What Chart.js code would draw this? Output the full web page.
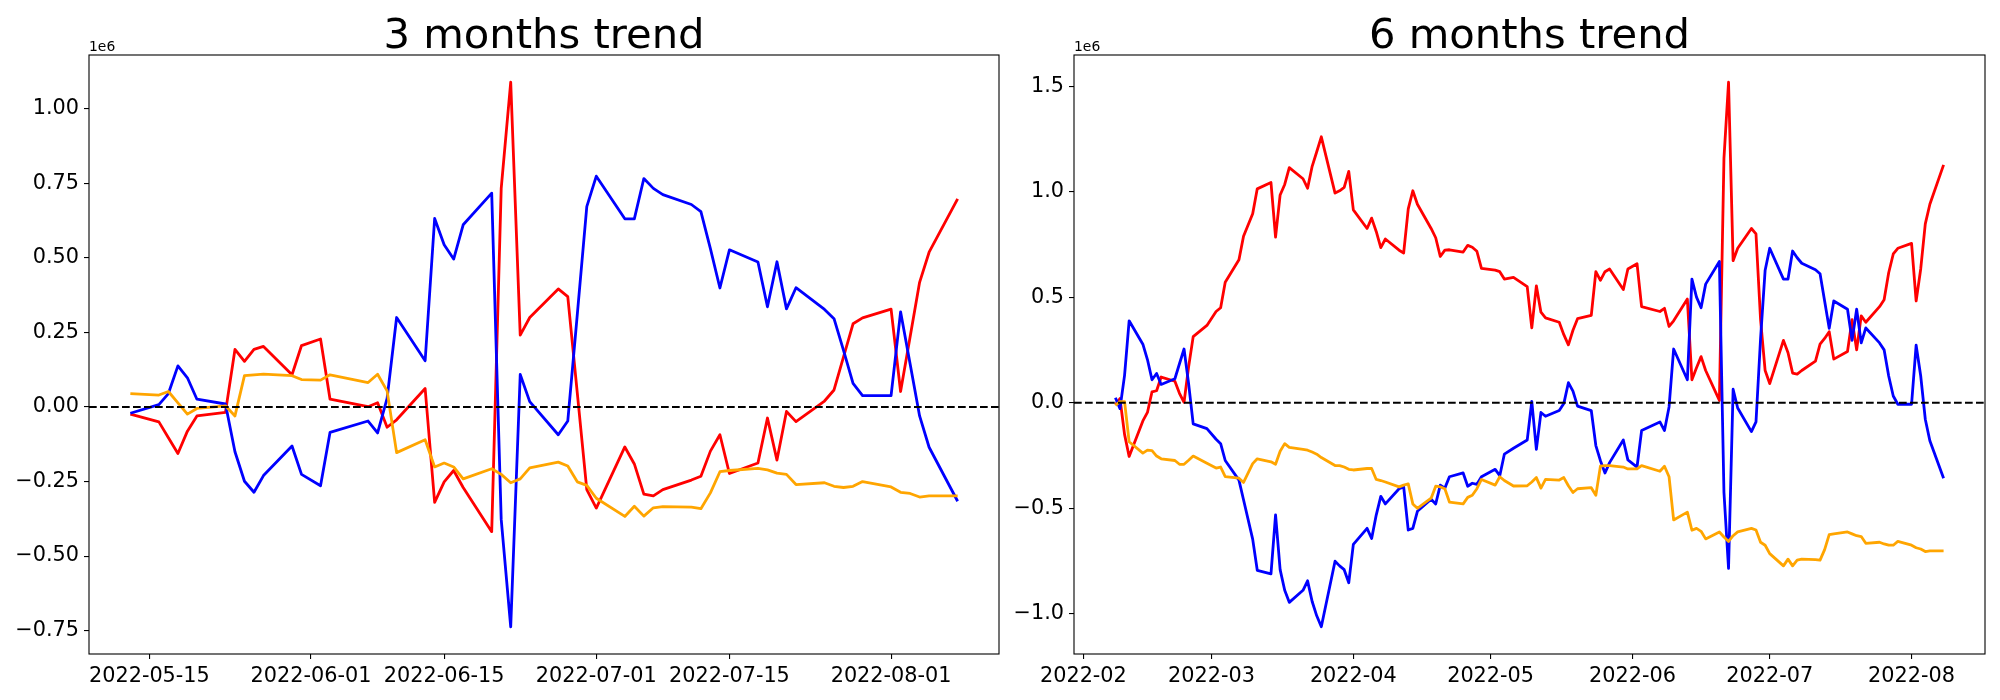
<!DOCTYPE html>
<html>
<head>
<meta charset="utf-8">
<script src="https://cdn.jsdelivr.net/npm/chart.js@4/dist/chart.umd.min.js"></script>
<style>
  html, body { margin: 0; padding: 0; background: #fff; overflow: hidden; }
  #wrap { position: relative; width: 2000px; height: 700px; }
  canvas { position: absolute; top: 0; }
</style>
</head>
<body>
<div id="wrap">
  <canvas id="chart3" width="1010" height="700" style="left:0px"></canvas>
  <canvas id="chart6" width="1000" height="700" style="left:1000px"></canvas>
</div>
<script>
// values are in units of 1e6 (net buying)
var dates3 = [
  '2022-05-13','2022-05-16','2022-05-17','2022-05-18','2022-05-19','2022-05-20',
  '2022-05-23','2022-05-24','2022-05-25','2022-05-26','2022-05-27','2022-05-30','2022-05-31',
  '2022-06-02','2022-06-03','2022-06-07','2022-06-08','2022-06-09','2022-06-10',
  '2022-06-13','2022-06-14','2022-06-15','2022-06-16','2022-06-17',
  '2022-06-20','2022-06-21','2022-06-22','2022-06-23','2022-06-24',
  '2022-06-27','2022-06-28','2022-06-29','2022-06-30','2022-07-01',
  '2022-07-04','2022-07-05','2022-07-06','2022-07-07','2022-07-08',
  '2022-07-11','2022-07-12','2022-07-13','2022-07-14','2022-07-15',
  '2022-07-18','2022-07-19','2022-07-20','2022-07-21','2022-07-22',
  '2022-07-25','2022-07-26','2022-07-27','2022-07-28','2022-07-29',
  '2022-08-01','2022-08-02','2022-08-03','2022-08-04','2022-08-05',
  '2022-08-08'
];
var red3 = [
  -0.024, -0.050, -0.103, -0.156, -0.081, -0.030,
  -0.018, 0.193, 0.153, 0.193, 0.203, 0.108, 0.206,
  0.228, 0.026, 0.001, 0.014, -0.068, -0.043,
  0.062, -0.320, -0.251, -0.213, -0.270,
  -0.418, 0.733, 1.089, 0.241, 0.300,
  0.396, 0.370, 0.047, -0.277, -0.339,
  -0.134, -0.191, -0.292, -0.298, -0.277,
  -0.245, -0.232, -0.148, -0.093, -0.223,
  -0.188, -0.037, -0.178, -0.015, -0.049,
  0.020, 0.057, 0.168, 0.279, 0.299,
  0.328, 0.052, 0.235, 0.418, 0.519,
  0.698
];
var blue3 = [
  -0.021, 0.008, 0.045, 0.138, 0.098, 0.026,
  0.010, -0.150, -0.249, -0.286, -0.230, -0.131, -0.226,
  -0.264, -0.085, -0.047, -0.087, 0.029, 0.300,
  0.155, 0.632, 0.544, 0.496, 0.611,
  0.717, -0.377, -0.737, 0.109, 0.018,
  -0.093, -0.047, 0.310, 0.672, 0.774,
  0.631, 0.631, 0.766, 0.733, 0.712,
  0.679, 0.655, 0.531, 0.399, 0.527,
  0.486, 0.336, 0.487, 0.329, 0.400,
  0.327, 0.296, 0.190, 0.079, 0.038,
  0.038, 0.319, 0.145, -0.030, -0.135,
  -0.316
];
var orange3 = [
  0.045, 0.040, 0.052, 0.014, -0.024, -0.005,
  0.004, -0.030, 0.105, 0.108, 0.110, 0.105, 0.092,
  0.090, 0.108, 0.082, 0.110, 0.054, -0.153,
  -0.110, -0.201, -0.188, -0.201, -0.241,
  -0.207, -0.226, -0.254, -0.241, -0.204,
  -0.185, -0.198, -0.251, -0.263, -0.306,
  -0.367, -0.333, -0.366, -0.338, -0.334,
  -0.336, -0.341, -0.288, -0.217, -0.213,
  -0.206, -0.211, -0.222, -0.226, -0.260,
  -0.254, -0.266, -0.270, -0.266, -0.250,
  -0.268, -0.286, -0.290, -0.302, -0.298,
  -0.298
];

var dates6 = [
  '2022-02-08','2022-02-09','2022-02-10','2022-02-11','2022-02-14','2022-02-15','2022-02-16','2022-02-17',
  '2022-02-18','2022-02-21','2022-02-22','2022-02-23','2022-02-24','2022-02-25','2022-02-28',
  '2022-03-02','2022-03-03','2022-03-04','2022-03-07','2022-03-08','2022-03-10','2022-03-11',
  '2022-03-14','2022-03-15','2022-03-16','2022-03-17','2022-03-18','2022-03-21','2022-03-22',
  '2022-03-23','2022-03-24','2022-03-25','2022-03-28','2022-03-29','2022-03-30','2022-03-31',
  '2022-04-01','2022-04-04','2022-04-05','2022-04-06','2022-04-07','2022-04-08','2022-04-11',
  '2022-04-12','2022-04-13','2022-04-14','2022-04-15','2022-04-18','2022-04-19','2022-04-20',
  '2022-04-21','2022-04-22','2022-04-25','2022-04-26','2022-04-27','2022-04-28','2022-04-29',
  '2022-05-02','2022-05-03','2022-05-04','2022-05-06','2022-05-09','2022-05-10','2022-05-11',
  '2022-05-12','2022-05-13','2022-05-16','2022-05-17','2022-05-18','2022-05-19','2022-05-20',
  '2022-05-23','2022-05-24','2022-05-25','2022-05-26','2022-05-27','2022-05-30','2022-05-31',
  '2022-06-02','2022-06-03','2022-06-07','2022-06-08','2022-06-09','2022-06-10','2022-06-13',
  '2022-06-14','2022-06-15','2022-06-16','2022-06-17','2022-06-20','2022-06-21','2022-06-22',
  '2022-06-23','2022-06-24','2022-06-27','2022-06-28','2022-06-29','2022-06-30',
  '2022-07-01','2022-07-04','2022-07-05','2022-07-06','2022-07-07','2022-07-08','2022-07-11',
  '2022-07-12','2022-07-13','2022-07-14','2022-07-15','2022-07-18','2022-07-19','2022-07-20',
  '2022-07-21','2022-07-22','2022-07-25','2022-07-26','2022-07-27','2022-07-28','2022-07-29',
  '2022-08-01','2022-08-02','2022-08-03','2022-08-04','2022-08-05','2022-08-08'
];
var red6 = [
  // feb
  -0.010, 0.020, -0.150, -0.255, -0.086, -0.046, 0.052, 0.057,
  0.122, 0.102, 0.045, 0.002, 0.170, 0.314, 0.367,
  // mar
  0.433, 0.451, 0.572, 0.679, 0.790, 0.897, 1.015,
  1.045, 0.786, 0.986, 1.036, 1.116, 1.063, 1.018,
  1.122, 1.191, 1.262, 0.995, 1.006, 1.022, 1.098,
  // apr
  0.915, 0.827, 0.876, 0.813, 0.736, 0.777, 0.724,
  0.711, 0.920, 1.006, 0.942, 0.827, 0.783, 0.694,
  0.724, 0.726, 0.715, 0.747, 0.738, 0.719, 0.638,
  // may
  0.629, 0.622, 0.587, 0.595, 0.551, 0.355, 0.555,
  0.430, 0.403, 0.382, 0.323, 0.275, 0.344, 0.399,
  0.415, 0.622, 0.581, 0.622, 0.635, 0.537, 0.635,
  // jun
  0.660, 0.456, 0.433, 0.448, 0.362, 0.389, 0.492,
  0.109, 0.166, 0.219, 0.153, 0.011, 1.161, 1.521,
  0.674, 0.733, 0.827, 0.801, 0.394, 0.153,
  // jul
  0.091, 0.296, 0.237, 0.141, 0.136, 0.153, 0.198,
  0.278, 0.305, 0.337, 0.207, 0.243, 0.394, 0.251,
  0.412, 0.382, 0.456, 0.489, 0.617, 0.706, 0.733,
  // aug
  0.756, 0.483, 0.635, 0.849, 0.942, 1.129
];
var blue6 = [
  0.024, -0.028, 0.130, 0.389, 0.278, 0.205, 0.109, 0.139,
  0.087, 0.114, 0.185, 0.255, 0.091, -0.100, -0.123,
  -0.173, -0.194, -0.274, -0.367, -0.460, -0.647, -0.795,
  -0.812, -0.532, -0.792, -0.890, -0.947, -0.890, -0.845,
  -0.943, -1.011, -1.063, -0.752, -0.774, -0.792, -0.854,
  -0.672, -0.596, -0.644, -0.533, -0.444, -0.480, -0.408,
  -0.399, -0.604, -0.596, -0.515, -0.458, -0.480, -0.391,
  -0.405, -0.351, -0.333, -0.396, -0.382, -0.387, -0.351,
  -0.316, -0.346, -0.244, -0.216, -0.177, 0.007, -0.221,
  -0.046, -0.064, -0.037, -0.004, 0.095, 0.055, -0.016,
  -0.037, -0.203, -0.275, -0.333, -0.284, -0.177, -0.271,
  -0.305, -0.132, -0.091, -0.132, -0.020, 0.255, 0.109,
  0.587, 0.501, 0.451, 0.563, 0.670, -0.426, -0.786,
  0.064, -0.025, -0.137, -0.091, 0.305, 0.629,
  0.733, 0.587, 0.587, 0.720, 0.688, 0.662, 0.631,
  0.612, 0.483, 0.353, 0.483, 0.444, 0.296, 0.444,
  0.284, 0.355, 0.284, 0.251, 0.127, 0.032, -0.007,
  -0.007, 0.273, 0.127, -0.078, -0.180, -0.358
];
var orange6 = [
  -0.012, 0.005, 0.005, -0.185, -0.239, -0.225, -0.227, -0.253,
  -0.266, -0.274, -0.292, -0.292, -0.273, -0.253, -0.287,
  -0.310, -0.305, -0.350, -0.358, -0.378, -0.289, -0.266,
  -0.280, -0.292, -0.230, -0.194, -0.212, -0.221, -0.225,
  -0.234, -0.244, -0.260, -0.298, -0.298, -0.305, -0.316,
  -0.319, -0.312, -0.312, -0.364, -0.369, -0.376, -0.399,
  -0.391, -0.385, -0.480, -0.501, -0.453, -0.396, -0.399,
  -0.408, -0.471, -0.480, -0.449, -0.439, -0.408, -0.364,
  -0.391, -0.351, -0.369, -0.395, -0.394, -0.376, -0.355,
  -0.405, -0.364, -0.367, -0.355, -0.394, -0.426, -0.408,
  -0.403, -0.439, -0.301, -0.298, -0.298, -0.305, -0.314,
  -0.314, -0.298, -0.325, -0.301, -0.351, -0.556, -0.519,
  -0.605, -0.596, -0.610, -0.646, -0.613, -0.637, -0.658,
  -0.631, -0.613, -0.596, -0.604, -0.662, -0.676,
  -0.716, -0.774, -0.742, -0.774, -0.747, -0.742, -0.744,
  -0.747, -0.697, -0.626, -0.622, -0.613, -0.622, -0.631,
  -0.635, -0.667, -0.662, -0.670, -0.676, -0.676, -0.658,
  -0.676, -0.688, -0.694, -0.706, -0.703, -0.703
];

var xTicks3 = ['2022-05-15','2022-06-01','2022-06-15','2022-07-01','2022-07-15','2022-08-01'];
var xTicks6 = ['2022-02-01','2022-03-01','2022-04-01','2022-05-01','2022-06-01','2022-07-01','2022-08-01'];
var yTicks3 = [-0.75, -0.5, -0.25, 0, 0.25, 0.5, 0.75, 1.0];
var yTicks6 = [-1.0, -0.5, 0, 0.5, 1.0, 1.5];

var DAY = 86400000;
function dayNum(s) {
  var p = s.split('-');
  return Date.UTC(+p[0], +p[1] - 1, +p[2]) / DAY;
}
function dayStr(v) {
  return new Date(Math.round(v) * DAY).toISOString().slice(0, 10);
}
function minusFmt(v, digits) {
  return (v < 0 ? '\u2212' : '') + Math.abs(v).toFixed(digits);
}

Chart.defaults.font.family = '"DejaVu Sans", sans-serif';
Chart.defaults.color = '#000';

// zero line, frame, title and the 1e6 offset text
var decor = {
  id: 'decor',
  afterDatasetsDraw: function(chart) {
    var a = chart.chartArea, ctx = chart.ctx;
    var y0 = chart.scales.y.getPixelForValue(0);
    ctx.save();
    ctx.strokeStyle = '#000';
    ctx.lineWidth = 2;
    ctx.setLineDash([7.7, 3.3]);
    ctx.beginPath();
    ctx.moveTo(a.left, y0);
    ctx.lineTo(a.right, y0);
    ctx.stroke();
    ctx.restore();
  },
  afterDraw: function(chart, args, opts) {
    var a = chart.chartArea, ctx = chart.ctx;
    ctx.save();
    ctx.strokeStyle = '#000';
    ctx.lineWidth = 1.1;
    ctx.strokeRect(a.left, a.top, a.right - a.left, a.bottom - a.top);
    ctx.fillStyle = '#000';
    ctx.textAlign = 'center';
    ctx.textBaseline = 'alphabetic';
    ctx.font = '41.7px "DejaVu Sans"';
    ctx.fillText(opts.title, (a.left + a.right) / 2, a.top - 7);
    ctx.textAlign = 'left';
    ctx.font = '13.9px "DejaVu Sans"';
    ctx.fillText('1e6', a.left, a.top - 4);
    ctx.restore();
  }
};

function makeChart(id, title, dates, red, blue, orange, xTicks, shortX, yTicks, yDigits, yWidth, padRight) {
  var xs = dates.map(dayNum);
  function pts(vals) {
    return vals.map(function(v, i) { return {x: xs[i], y: v}; });
  }
  var xPad = (xs[xs.length - 1] - xs[0]) * 0.05;
  var all = red.concat(blue, orange);
  var yMin = Math.min.apply(null, all), yMax = Math.max.apply(null, all);
  var yPad = (yMax - yMin) * 0.05;
  var xTickVals = xTicks.map(dayNum);

  var grid = {display: true, drawOnChartArea: false, drawTicks: true, tickLength: 5, color: '#000', lineWidth: 1.1};

  return new Chart(document.getElementById(id), {
    type: 'line',
    data: {
      datasets: [
        {data: pts(orange), borderColor: '#ffa500'},
        {data: pts(blue), borderColor: '#0000ff'},
        {data: pts(red), borderColor: '#ff0000'}
      ]
    },
    options: {
      responsive: false,
      devicePixelRatio: 1,
      animation: false,
      datasets: {line: {borderWidth: 2.8, pointRadius: 0, tension: 0, fill: false, borderJoinStyle: 'round'}},
      layout: {padding: {top: 55, right: padRight, left: 0, bottom: 0}},
      plugins: {legend: {display: false}, tooltip: {enabled: false}, decor: {title: title}},
      scales: {
        x: {
          type: 'linear', bounds: 'data',
          min: xs[0] - xPad, max: xs[xs.length - 1] + xPad,
          afterBuildTicks: function(s) { s.ticks = xTickVals.map(function(v) { return {value: v}; }); },
          afterFit: function(s) { s.height = 46; },
          grid: grid, border: {display: false},
          ticks: {
            autoSkip: false, maxRotation: 0, minRotation: 0, padding: 5,
            font: {size: 20.8},
            callback: function(v) { var s = dayStr(v); return shortX ? s.slice(0, 7) : s; }
          }
        },
        y: {
          type: 'linear', bounds: 'data',
          min: yMin - yPad, max: yMax + yPad,
          afterBuildTicks: function(s) { s.ticks = yTicks.map(function(v) { return {value: v}; }); },
          afterFit: function(s) { s.width = yWidth; },
          grid: grid, border: {display: false},
          ticks: {
            padding: 5, font: {size: 20.8},
            callback: function(v) { return minusFmt(v, yDigits); }
          }
        }
      }
    },
    plugins: [decor]
  });
}

makeChart('chart3', '3 months trend', dates3, red3, blue3, orange3, xTicks3, false, yTicks3, 2, 89, 11);
makeChart('chart6', '6 months trend', dates6, red6, blue6, orange6, xTicks6, true, yTicks6, 1, 74, 15);
</script>
</body>
</html>
